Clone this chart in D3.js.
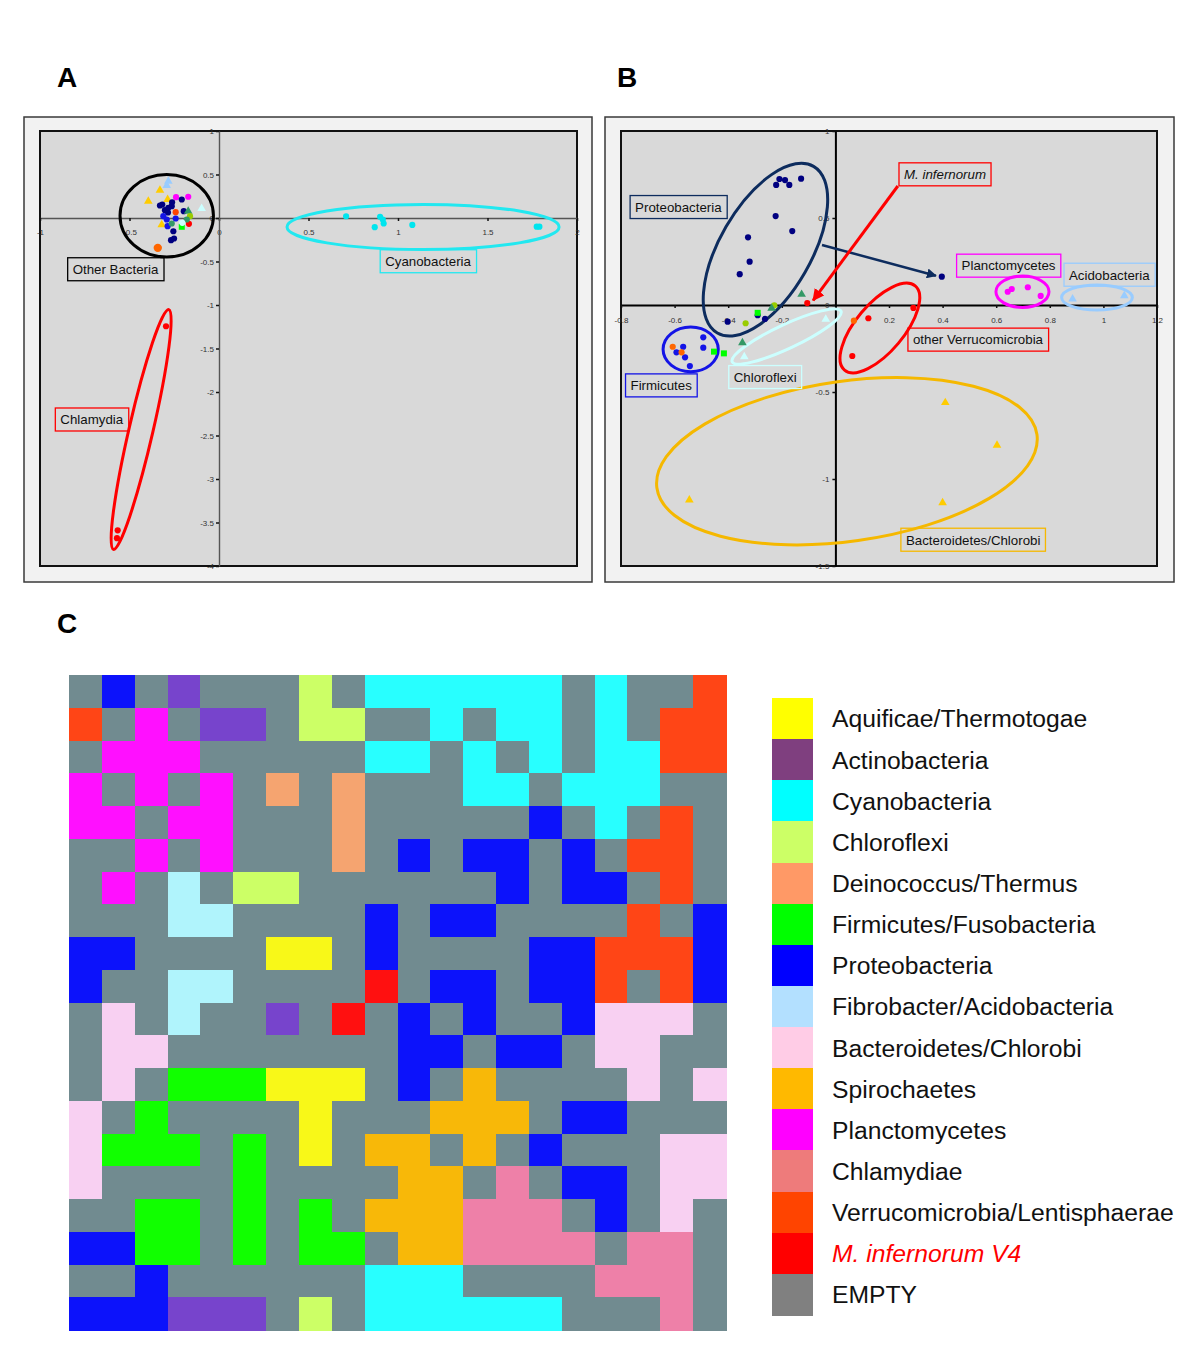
<!DOCTYPE html>
<html><head><meta charset="utf-8">
<script src="https://cdn.jsdelivr.net/npm/d3@7/dist/d3.min.js"></script>
<style>
body{margin:0;background:#fff;}
text{font-family:"Liberation Sans",Arial,Helvetica,sans-serif;}
</style>
</head><body>
<svg id="fig" width="1200" height="1366"></svg>
<script>
// ---------------- DATA ----------------
// Panel A tick values / labels
const aXTicks = [-1, -0.5, 0, 0.5, 1, 1.5, 2];
const aXTickLabels = ["-1", "-0.5", "0", "0.5", "1", "1.5", "2"];
const aYTicks = [1, 0.5, 0, -0.5, -1, -1.5, -2, -2.5, -3, -3.5, -4];
const aYTickLabels = ["1", "0.5", "0", "-0.5", "-1", "-1.5", "-2", "-2.5", "-3", "-3.5", "-4"];

// Panel A points [x, y, colourKey, shape]
const aOtherBacteria = [
  [-0.283, 0.423, "lblue", "t"], [-0.292, 0.374, "lblue", "t"],
  [-0.330, 0.320, "gold", "t"], [-0.395, 0.193, "gold", "t"], [-0.287, 0.213, "gold", "t"], [-0.320, -0.078, "gold", "t"],
  [-0.240, 0.239, "magenta", "c"], [-0.172, 0.244, "magenta", "c"],
  [-0.208, 0.213, "navy", "c"], [-0.317, 0.155, "navy", "c"], [-0.283, 0.117, "navy", "c"], [-0.302, 0.090, "navy", "c"],
  [-0.264, 0.136, "navy", "c"], [-0.197, 0.078, "navy", "c"], [-0.255, -0.152, "navy", "c"], [-0.268, -0.255, "navy", "c"],
  [-0.251, -0.236, "navy", "c"], [-0.330, 0.144, "navy", "c"], [-0.285, 0.063, "navy", "c"], [-0.262, 0.180, "navy", "c"],
  [-0.242, 0.067, "orangered", "c"], [-0.168, -0.067, "red", "c"],
  [-0.311, 0.021, "blue", "c"], [-0.292, -0.017, "blue", "c"], [-0.242, -0.006, "blue", "c"], [-0.287, -0.094, "blue", "c"],
  [-0.172, 0.078, "teal", "t"], [-0.162, 0.021, "lime", "c"], [-0.180, -0.017, "teal", "c"],
  [-0.208, -0.101, "green", "s"], [-0.264, -0.063, "teal", "c"],
  [-0.097, 0.109, "white", "t"], [-0.205, -0.055, "white", "c"],
  [-0.342, -0.343, "orange", "C"]
];
const aCyanobacteria = [
  [0.71, 0.020, "cyan", "c"], [0.90, 0.014, "cyan", "c"], [0.915, -0.017, "cyan", "c"], [0.92, -0.063, "cyan", "c"],
  [0.87, -0.105, "cyan", "c"], [1.08, -0.080, "cyan", "c"], [1.775, -0.100, "cyan", "c"], [1.79, -0.100, "cyan", "c"]
];
const aChlamydia = [
  [-0.296, -1.244, "red", "c"], [-0.566, -3.590, "red", "c"], [-0.570, -3.680, "red", "c"]
];
// Panel A group ellipses [cx, cy, rx, ry (data units), rotation, colourKey]
const aEllipses = [
  [-0.292, 0.026, 0.261, 0.474, 0, "black"],
  [1.140, -0.103, 0.760, 0.259, 0, "cyan"],
  [-0.435, -2.431, 0.067, 1.414, 13, "red"]
];
// Panel A labels [text, cx, cy, colourKey, italic]
const aLabels = [
  ["Other Bacteria", -0.578, -0.589, "black", false],
  ["Cyanobacteria", 1.168, -0.497, "cyan", false],
  ["Chlamydia", -0.711, -2.316, "red", false]
];

// Panel B tick values / labels
const bXTicks = [-0.8, -0.6, -0.4, -0.2, 0, 0.2, 0.4, 0.6, 0.8, 1, 1.2];
const bXTickLabels = ["-0.8", "-0.6", "-0.4", "-0.2", "", "0.2", "0.4", "0.6", "0.8", "1", "1.2"];
const bYTicks = [1, 0.5, 0, -0.5, -1, -1.5];
const bYTickLabels = ["1", "0.5", "0", "-0.5", "-1", "-1.5"];

// Panel B points
const bProteobacteria = [
  [-0.209, 0.724, "navy", "c"], [-0.188, 0.718, "navy", "c"], [-0.221, 0.690, "navy", "c"], [-0.172, 0.690, "navy", "c"],
  [-0.128, 0.726, "navy", "c"], [-0.223, 0.511, "navy", "c"], [-0.161, 0.425, "navy", "c"], [-0.326, 0.389, "navy", "c"],
  [-0.320, 0.249, "navy", "c"], [-0.357, 0.177, "navy", "c"], [-0.402, -0.096, "navy", "c"], [-0.290, -0.059, "navy", "c"],
  [-0.263, -0.080, "navy", "c"], [0.397, 0.163, "navy", "c"]
];
const bOther = [
  [-0.228, -0.002, "lime", "c"], [-0.238, -0.019, "teal", "t"], [-0.126, 0.061, "teal", "t"],
  [-0.335, -0.105, "lime", "c"], [-0.290, -0.045, "green", "s"], [-0.105, 0.011, "red", "c"]
];
const bChloroflexi = [
  [-0.036, -0.082, "white", "t"], [-0.340, -0.297, "white", "t"], [-0.347, -0.217, "teal", "t"]
];
const bFirmicutes = [
  [-0.493, -0.186, "blue", "c"], [-0.493, -0.245, "blue", "c"], [-0.568, -0.240, "blue", "c"], [-0.593, -0.272, "blue", "c"],
  [-0.561, -0.301, "blue", "c"], [-0.543, -0.351, "blue", "c"], [-0.607, -0.240, "orange", "c"], [-0.574, -0.272, "orange", "c"],
  [-0.453, -0.268, "green", "s"], [-0.416, -0.278, "green", "s"]
];
const bPlanctomycetes = [
  [0.643, 0.076, "magenta", "c"], [0.658, 0.092, "magenta", "c"], [0.718, 0.102, "magenta", "c"], [0.766, 0.052, "magenta", "c"]
];
const bAcidobacteria = [
  [0.885, 0.034, "lblue", "t"], [1.078, 0.053, "lblue", "t"]
];
const bVerrucomicrobia = [
  [0.123, -0.076, "red", "c"], [0.291, -0.017, "red", "c"], [0.063, -0.293, "red", "c"], [0.069, -0.090, "orange", "c"]
];
const bBacteroidetes = [
  [0.410, -0.561, "gold", "t"], [0.603, -0.806, "gold", "t"], [0.400, -1.136, "gold", "t"], [-0.545, -1.121, "gold", "t"]
];
const bEllipses = [
  [-0.261, 0.318, 0.359, 0.262, -60, "navyline"],
  [-0.540, -0.255, 0.103, 0.128, 0, "blue"],
  [-0.182, -0.181, 0.224, 0.069, -25, "paleCyan"],
  [0.166, -0.132, 0.205, 0.138, -50, "red"],
  [0.698, 0.076, 0.099, 0.090, 0, "magenta"],
  [0.976, 0.043, 0.132, 0.072, 0, "lblue"],
  [0.043, -0.898, 0.716, 0.460, -8, "goldline"]
];
const bLabels = [
  ["Proteobacteria", -0.586, 0.563, "navyline", false],
  ["M. infernorum", 0.409, 0.751, "red", true],
  ["Planctomycetes", 0.646, 0.226, "magenta", false],
  ["Acidobacteria", 1.022, 0.174, "lblue", false],
  ["other Verrucomicrobia", 0.532, -0.199, "red", false],
  ["Firmicutes", -0.650, -0.462, "blue", false],
  ["Chloroflexi", -0.262, -0.414, "paleCyan", false],
  ["Bacteroidetes/Chlorobi", 0.514, -1.349, "goldline", false]
];
// arrows [x1, y1, x2, y2, colourKey]
const bArrows = [
  [-0.050, 0.345, 0.375, 0.168, "navyline"],
  [0.233, 0.684, -0.083, 0.027, "red"]
];

// Panel C: categories, colours and map
const categories = ["Aquificae/Thermotogae", "Actinobacteria", "Cyanobacteria", "Chloroflexi", "Deinococcus/Thermus",
  "Firmicutes/Fusobacteria", "Proteobacteria", "Fibrobacter/Acidobacteria", "Bacteroidetes/Chlorobi", "Spirochaetes",
  "Planctomycetes", "Chlamydiae", "Verrucomicrobia/Lentisphaerae", "M. infernorum V4", "EMPTY"];
const categoryCodes = ["Y", "P", "C", "L", "S", "F", "B", "A", "K", "T", "M", "H", "O", "R", "G"];
const legendColors = ["#ffff00", "#7f3f7f", "#00ffff", "#ccff66", "#ff9966", "#00ff00", "#0000ff", "#b3e0ff", "#ffcce6",
  "#ffb900", "#ff00ff", "#ee7b7b", "#ff4400", "#ff0000", "#808080"];
const cellColors = ["#f8f818", "#7744cc", "#28ffff", "#ccff66", "#f5a470", "#11ff00", "#0c12fb", "#b0f4fc", "#f8d0f2",
  "#f8b808", "#ff10ff", "#ee80a8", "#ff4516", "#ff1010", "#718b90"];
const somGrid = [
  "GBGPGGGLGCCCCCCGCGGO",
  "OGMGPPGLLGGCGCCGCGOO",
  "GMMMGGGGGCCGCGCGCCOO",
  "MGMGMGSGSGGGCCGCCCGG",
  "MMGMMGGGSGGGGGBGCGOG",
  "GGMGMGGGSGBGBBGBGOOG",
  "GMGAGLLGGGGGGBGBBGOG",
  "GGGAAGGGGBGBBGGGGOGB",
  "BBGGGGYYGBGGGGBBOOOB",
  "BGGAAGGGGRGBBGBBOGOB",
  "GKGAGGPGRGBGBGGBKKKG",
  "GKKGGGGGGGBBGBBGKKGG",
  "GKGFFFYYYGBGTGGGGKGK",
  "KGFGGGGYGGGTTTGBBGGG",
  "KFFFGFGYGTTGTGBGGGKK",
  "KGGGGFGGGGTTGHGBBGKK",
  "GGFFGFGFGTTTHHHGBGKG",
  "BBFFGFGFFGTTHHHHGHHG",
  "GGBGGGGGGCCCGGGGHHHG",
  "BBBPPPGLGCCCCCCGGGHG"
];

// ---------------- STYLE ----------------
const pc = {
  navy: "#000080", blue: "#1414e6", gold: "#ffcc00", lblue: "#99ccff", magenta: "#ff00ff", orangered: "#ff4400",
  red: "#ff0000", teal: "#339966", lime: "#99cc00", green: "#00ff00", white: "#ccffff", orange: "#ff6600",
  cyan: "#00e5ee", black: "#000000", navyline: "#0d2c5e", paleCyan: "#ccffff", goldline: "#f5b800"
};
const lineCol = k => k === "cyan" ? "#22e8f0" : pc[k];

const svg = d3.select("#fig");
const defs = svg.append("defs");

function arrowMarker(id, col) {
  defs.append("marker").attr("id", id).attr("viewBox", "0 0 10 10").attr("refX", 9).attr("refY", 5)
    .attr("markerWidth", 4).attr("markerHeight", 4).attr("orient", "auto-start-reverse")
    .append("path").attr("d", "M0,0 L10,5 L0,10 z").attr("fill", col);
}
arrowMarker("arr-navyline", pc.navyline);
arrowMarker("arr-red", pc.red);

function scatterPanel(cfg) {
  const g = svg.append("g");
  g.append("rect").attr("x", cfg.frame[0]).attr("y", cfg.frame[1]).attr("width", cfg.frame[2] - cfg.frame[0])
    .attr("height", cfg.frame[3] - cfg.frame[1]).attr("fill", "#f2f2f2").attr("stroke", "#3a3a3a").attr("stroke-width", 1.5);
  const x = d3.scaleLinear().domain(cfg.xDomain).range([cfg.plot[0], cfg.plot[2]]);
  const y = d3.scaleLinear().domain(cfg.yDomain).range([cfg.plot[3], cfg.plot[1]]);
  g.append("rect").attr("x", cfg.plot[0]).attr("y", cfg.plot[1]).attr("width", cfg.plot[2] - cfg.plot[0])
    .attr("height", cfg.plot[3] - cfg.plot[1]).attr("fill", "#d9d9d9").attr("stroke", "#111").attr("stroke-width", 2);

  // axes through origin
  const xa = d3.axisBottom(x).tickValues(cfg.xTicks).tickFormat((d, i) => cfg.xLabels[i])
    .tickSize(3).tickSizeOuter(0).tickPadding(cfg.xPad);
  const ya = d3.axisLeft(y).tickValues(cfg.yTicks).tickFormat((d, i) => cfg.yLabels[i])
    .tickSize(3).tickSizeOuter(0).tickPadding(cfg.yPad);
  const gx = g.append("g").attr("transform", `translate(0,${y(0)})`).call(xa);
  const gy = g.append("g").attr("transform", `translate(${x(0)},0)`).call(ya);
  [gx, gy].forEach(a => {
    a.select(".domain").attr("stroke", cfg.axisCol).attr("stroke-width", cfg.axisW);
    a.selectAll(".tick line").attr("stroke", "#111").attr("stroke-width", 1.5);
    a.selectAll(".tick text").attr("fill", "#333").attr("font-size", 8)
      .attr("font-family", "'Liberation Sans',Arial,sans-serif");
  });

  // ellipses
  cfg.ellipses.forEach(e => {
    const cx = x(e[0]), cy = y(e[1]);
    const rx = Math.abs(x(e[0] + e[2]) - cx), ry = Math.abs(y(e[1] + e[3]) - cy);
    g.append("ellipse").attr("cx", cx).attr("cy", cy).attr("rx", rx).attr("ry", ry)
      .attr("transform", `rotate(${e[4]},${cx},${cy})`)
      .attr("fill", "none").attr("stroke", lineCol(e[5])).attr("stroke-width", 3);
  });
  // arrows
  (cfg.arrows || []).forEach(a => {
    g.append("line").attr("x1", x(a[0])).attr("y1", y(a[1])).attr("x2", x(a[2])).attr("y2", y(a[3]))
      .attr("stroke", pc[a[4]]).attr("stroke-width", a[4] === "red" ? 3 : 2.5)
      .attr("marker-end", `url(#arr-${a[4]})`);
  });
  // points
  const sym = { c: d3.symbolCircle, C: d3.symbolCircle, t: d3.symbolTriangle, s: d3.symbolSquare };
  const size = { c: 30, C: 55, t: 32, s: 36 };
  cfg.points.forEach(set => {
    g.append("g").selectAll("path").data(set).join("path")
      .attr("transform", d => `translate(${x(d[0])},${y(d[1])})`)
      .attr("d", d => d3.symbol().type(sym[d[3]]).size(size[d[3]])())
      .attr("fill", d => pc[d[2]]);
  });
  // labels
  cfg.labels.forEach(l => {
    const t = g.append("text").attr("x", x(l[1])).attr("y", y(l[2])).attr("text-anchor", "middle")
      .attr("dy", "0.36em").attr("font-size", 13.3).attr("fill", "#111")
      .attr("font-style", l[4] ? "italic" : "normal").text(l[0]);
    const bb = t.node().getBBox();
    g.insert("rect", () => t.node()).attr("x", bb.x - 5).attr("y", y(l[2]) - 11.5).attr("width", bb.width + 10)
      .attr("height", 23).attr("fill", "none").attr("stroke", lineCol(l[3])).attr("stroke-width", 1.3);
  });
}

scatterPanel({
  frame: [24, 117, 592, 582], plot: [40, 131, 577, 566],
  xDomain: [-1, 2], yDomain: [-4, 1],
  xTicks: aXTicks, xLabels: aXTickLabels, yTicks: aYTicks, yLabels: aYTickLabels,
  xPad: 8, yPad: 2, axisCol: "#555", axisW: 1.4,
  ellipses: aEllipses, points: [aOtherBacteria, aCyanobacteria, aChlamydia], labels: aLabels
});
scatterPanel({
  frame: [605, 117, 1174, 582], plot: [621, 131, 1157, 566],
  xDomain: [-0.8, 1.2], yDomain: [-1.5, 1],
  xTicks: bXTicks, xLabels: bXTickLabels, yTicks: bYTicks, yLabels: bYTickLabels,
  xPad: 9, yPad: 3, axisCol: "#000", axisW: 2,
  ellipses: bEllipses,
  points: [bProteobacteria, bOther, bChloroflexi, bFirmicutes, bPlanctomycetes, bAcidobacteria, bVerrucomicrobia, bBacteroidetes],
  labels: bLabels, arrows: bArrows
});

// panel letters
[["A", 57, 87], ["B", 617, 87], ["C", 57, 633]].forEach(p => {
  svg.append("text").attr("x", p[1]).attr("y", p[2]).attr("font-size", 28).attr("font-weight", "bold")
    .attr("fill", "#000").text(p[0]);
});

// ---------------- PANEL C ----------------
const nCols = somGrid[0].length, nRows = somGrid.length;
const gx = d3.scaleBand().domain(d3.range(nCols)).range([69, 726]);
const gy = d3.scaleBand().domain(d3.range(nRows)).range([675, 1330]);
const cells = [];
somGrid.forEach((row, r) => row.split("").forEach((code, c) => cells.push({ r, c, k: categoryCodes.indexOf(code) })));
svg.append("g").attr("shape-rendering", "crispEdges").selectAll("rect").data(cells).join("rect")
  .attr("x", d => gx(d.c)).attr("y", d => gy(d.r))
  .attr("width", gx.bandwidth() + 0.5).attr("height", gy.bandwidth() + 0.5)
  .attr("fill", d => cellColors[d.k]);

const ly = d3.scaleBand().domain(d3.range(categories.length)).range([698, 1315]);
const lg = svg.append("g");
lg.selectAll("rect").data(categories).join("rect").attr("shape-rendering", "crispEdges")
  .attr("x", 772).attr("y", (d, i) => ly(i)).attr("width", 41).attr("height", ly.bandwidth() + 0.5)
  .attr("fill", (d, i) => legendColors[i]);
lg.selectAll("text").data(categories).join("text")
  .attr("x", 832).attr("y", (d, i) => ly(i) + ly.bandwidth() / 2).attr("dy", "0.36em")
  .attr("font-size", 24.7).attr("fill", (d, i) => i === 13 ? "#ff0000" : "#111")
  .attr("font-style", (d, i) => i === 13 ? "italic" : "normal").text(d => d);
</script>
</body></html>
